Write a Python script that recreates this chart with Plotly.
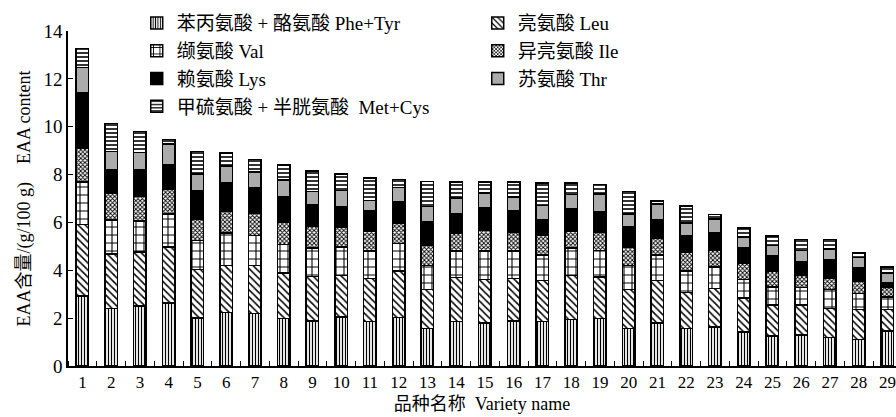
import plotly.graph_objects as go

# Essential amino acid content of 29 varieties, g/100 g, stacked bottom to top
varieties = [str(i) for i in range(1, 30)]

phe_tyr = [2.93, 2.40, 2.50, 2.64, 2.01, 2.24, 2.19, 1.99, 1.89, 2.05,
           1.85, 2.03, 1.57, 1.85, 1.80, 1.89, 1.85, 1.94, 1.99, 1.57,
           1.80, 1.57, 1.64, 1.43, 1.25, 1.29, 1.19, 1.11, 1.47]
leu = [2.99, 2.29, 2.26, 2.33, 2.02, 1.97, 2.02, 1.90, 1.86, 1.74,
       1.80, 1.94, 1.62, 1.84, 1.81, 1.76, 1.73, 1.85, 1.73, 1.62,
       1.78, 1.50, 1.60, 1.42, 1.29, 1.25, 1.21, 1.25, 0.89]
val = [1.76, 1.42, 1.29, 1.39, 1.22, 1.35, 1.25, 1.18, 1.19, 1.18,
       1.15, 1.14, 1.02, 1.11, 1.19, 1.15, 1.05, 1.15, 1.11, 1.02,
       1.05, 0.90, 0.90, 0.76, 0.76, 0.74, 0.79, 0.67, 0.53]
ile = [1.42, 1.11, 1.03, 1.04, 0.90, 0.91, 0.94, 0.94, 0.91, 0.81,
       0.84, 0.86, 0.83, 0.73, 0.89, 0.77, 0.83, 0.70, 0.77, 0.76,
       0.69, 0.77, 0.69, 0.67, 0.66, 0.51, 0.49, 0.53, 0.39]
lys = [2.33, 0.97, 1.11, 1.02, 1.16, 1.17, 1.07, 1.05, 0.90, 0.86,
       0.83, 0.88, 0.97, 0.83, 0.92, 0.90, 0.65, 0.93, 0.83, 0.86,
       0.79, 0.69, 0.73, 0.66, 0.64, 0.56, 0.76, 0.54, 0.21]
thr = [1.04, 0.77, 0.74, 0.86, 0.72, 0.71, 0.63, 0.72, 0.55, 0.69,
       0.45, 0.62, 0.66, 0.67, 0.61, 0.59, 0.60, 0.60, 0.76, 0.53,
       0.67, 0.54, 0.59, 0.45, 0.44, 0.48, 0.44, 0.43, 0.40]
met_cys = [0.79, 1.18, 0.87, 0.19, 0.94, 0.55, 0.53, 0.63, 0.84, 0.70,
           0.93, 0.32, 1.05, 0.65, 0.46, 0.62, 0.93, 0.47, 0.39, 0.93,
           0.11, 0.71, 0.18, 0.37, 0.39, 0.45, 0.40, 0.19, 0.25]

series_names = [
    "苯丙氨酸 + 酪氨酸 Phe+Tyr",
    "亮氨酸 Leu",
    "缬氨酸 Val",
    "异亮氨酸 Ile",
    "赖氨酸 Lys",
    "苏氨酸 Thr",
    "甲硫氨酸 + 半胱氨酸  Met+Cys",
]
series_values = [phe_tyr, leu, val, ile, lys, thr, met_cys]

# fill style per series: (base colour, pattern shape, pattern size, solidity)
styles = [
    ("white", "|", 3, 0.4),
    ("white", "\\", 5, 0.3),
    ("white", "+", 8, 0.25),
    ("white", "x", 3, 0.5),
    ("black", "", 8, 0.3),
    ("#ababab", "", 8, 0.3),
    ("white", "-", 4, 0.4),
]

FONT = "Liberation Serif, Noto Sans CJK SC"

fig = go.Figure()
xs = list(range(1, len(varieties) + 1))
for name, vals, (col, shape, size, sol) in zip(series_names, series_values, styles):
    marker = dict(color=col, line=dict(color="black", width=1.5))
    if shape:
        marker["pattern"] = dict(shape=shape, size=size, solidity=sol,
                                 fgcolor="black", bgcolor=col, fillmode="replace")
    fig.add_trace(go.Bar(x=xs, y=vals, name=name, marker=marker, width=0.44))

fig.update_layout(
    barmode="stack",
    width=896, height=417,
    margin=dict(l=68, r=0, t=31, b=51),
    plot_bgcolor="white", paper_bgcolor="white",
    font=dict(family=FONT, size=18, color="black"),
    showlegend=True,
    legend=dict(
        orientation="h", traceorder="normal",
        x=0.083, y=1.08, xanchor="left", yanchor="top",
        entrywidth=296, entrywidthmode="pixels",
        font=dict(family=FONT, size=19),
        bgcolor="rgba(0,0,0,0)",
    ),
)

fig.update_xaxes(
    range=[0.5, 29.3],
    tickmode="array", tickvals=xs, ticktext=varieties,
    ticks="", showline=True, linecolor="black", linewidth=1.5,
    showgrid=False, zeroline=False,
    tickfont=dict(family=FONT, size=17),
    minor=dict(tickmode="linear", tick0=0.5, dtick=1, ticks="inside",
               ticklen=5, tickcolor="black", tickwidth=1, showgrid=False),
    title=dict(text="品种名称  Variety name", font=dict(family=FONT, size=18),
               standoff=6),
)
fig.update_yaxes(
    range=[0, 14], tickmode="linear", tick0=0, dtick=2,
    ticks="inside", ticklen=5, tickwidth=1, tickcolor="black",
    showline=True, linecolor="black", linewidth=1.5,
    showgrid=False, zeroline=False,
    tickfont=dict(family=FONT, size=19),
    title=dict(text="EAA含量/(g/100 g)    EAA content",
               font=dict(family=FONT, size=18), standoff=8),
)

fig.write_html("out.html")
